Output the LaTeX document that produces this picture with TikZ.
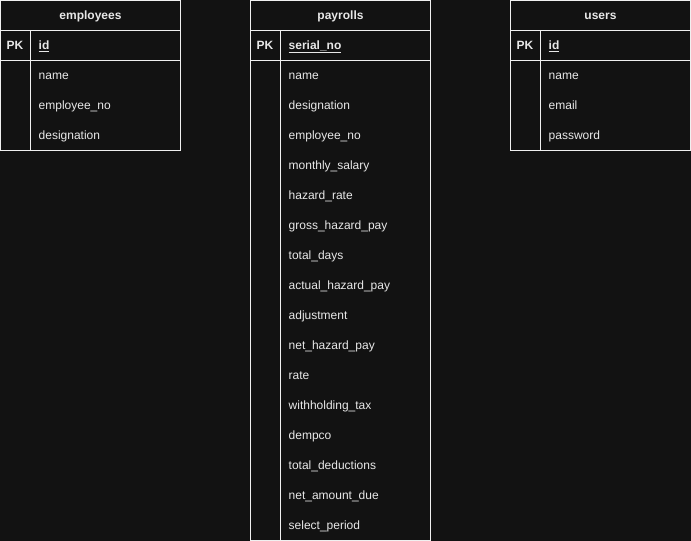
\documentclass[tikz,border=0pt]{standalone}
\usepackage{fontspec}
\setmainfont{Liberation Sans}
\definecolor{bgc}{HTML}{121212}
\definecolor{linec}{HTML}{F0F0F0}
\definecolor{txtc}{HTML}{E8E8E8}
\tikzset{
  frame/.style={draw=linec, line width=1pt},
  cell/.style={anchor=base west, inner sep=0pt, text=txtc, font=\fontsize{12}{14}\selectfont},
  headtxt/.style={anchor=base, inner sep=0pt, text=txtc, font=\fontsize{12}{14}\selectfont\bfseries},
  pktxt/.style={anchor=base west, inner sep=0pt, text=txtc, font=\fontsize{12}{14}\selectfont\bfseries},
}
\newcommand{\ul}[1]{\underline{#1}}
\begin{document}
\begin{tikzpicture}[x=1pt,y=-1pt]
\fill[bgc] (0,0) rectangle (691,541);
\useasboundingbox (0,0) rectangle (691,541);
% employees
\draw[frame] (0.5,0.5) rectangle (180.5,150.5);
\draw[frame] (0.5,30.5) -- (180.5,30.5);
\draw[frame] (0.5,60.5) -- (180.5,60.5);
\draw[frame] (30.5,30.5) -- (30.5,150.5);
\node[headtxt] (emph) at (90.5,19.5) {employees};
\node[pktxt] (empk) at (6.5,49.5) {PK};
\node[pktxt] (empid) at (38.5,49.5) {\ul{id}};
\foreach \t [count=\i] in {name,employee\_no,designation}
  \node[cell] (emp\i) at (38.5,49.5+30*\i) {\t};
% payrolls
\draw[frame] (250.5,0.5) rectangle (430.5,540.5);
\draw[frame] (250.5,30.5) -- (430.5,30.5);
\draw[frame] (250.5,60.5) -- (430.5,60.5);
\draw[frame] (280.5,30.5) -- (280.5,540.5);
\node[headtxt] (payh) at (340.5,19.5) {payrolls};
\node[pktxt] (paypk) at (256.5,49.5) {PK};
\node[pktxt] (payid) at (288.5,49.5) {\ul{serial\_no}};
\foreach \t [count=\i] in {name,designation,employee\_no,monthly\_salary,hazard\_rate,gross\_hazard\_pay,total\_days,actual\_hazard\_pay,adjustment,net\_hazard\_pay,rate,withholding\_tax,dempco,total\_deductions,net\_amount\_due,select\_period}
  \node[cell] (pay\i) at (288.5,49.5+30*\i) {\t};
% users
\draw[frame] (510.5,0.5) rectangle (690.5,150.5);
\draw[frame] (510.5,30.5) -- (690.5,30.5);
\draw[frame] (510.5,60.5) -- (690.5,60.5);
\draw[frame] (540.5,30.5) -- (540.5,150.5);
\node[headtxt] (usrh) at (600.5,19.5) {users};
\node[pktxt] (usrpk) at (516.5,49.5) {PK};
\node[pktxt] (usrid) at (548.5,49.5) {\ul{id}};
\foreach \t [count=\i] in {name,email,password}
  \node[cell] (usr\i) at (548.5,49.5+30*\i) {\t};
\end{tikzpicture}
\end{document}
